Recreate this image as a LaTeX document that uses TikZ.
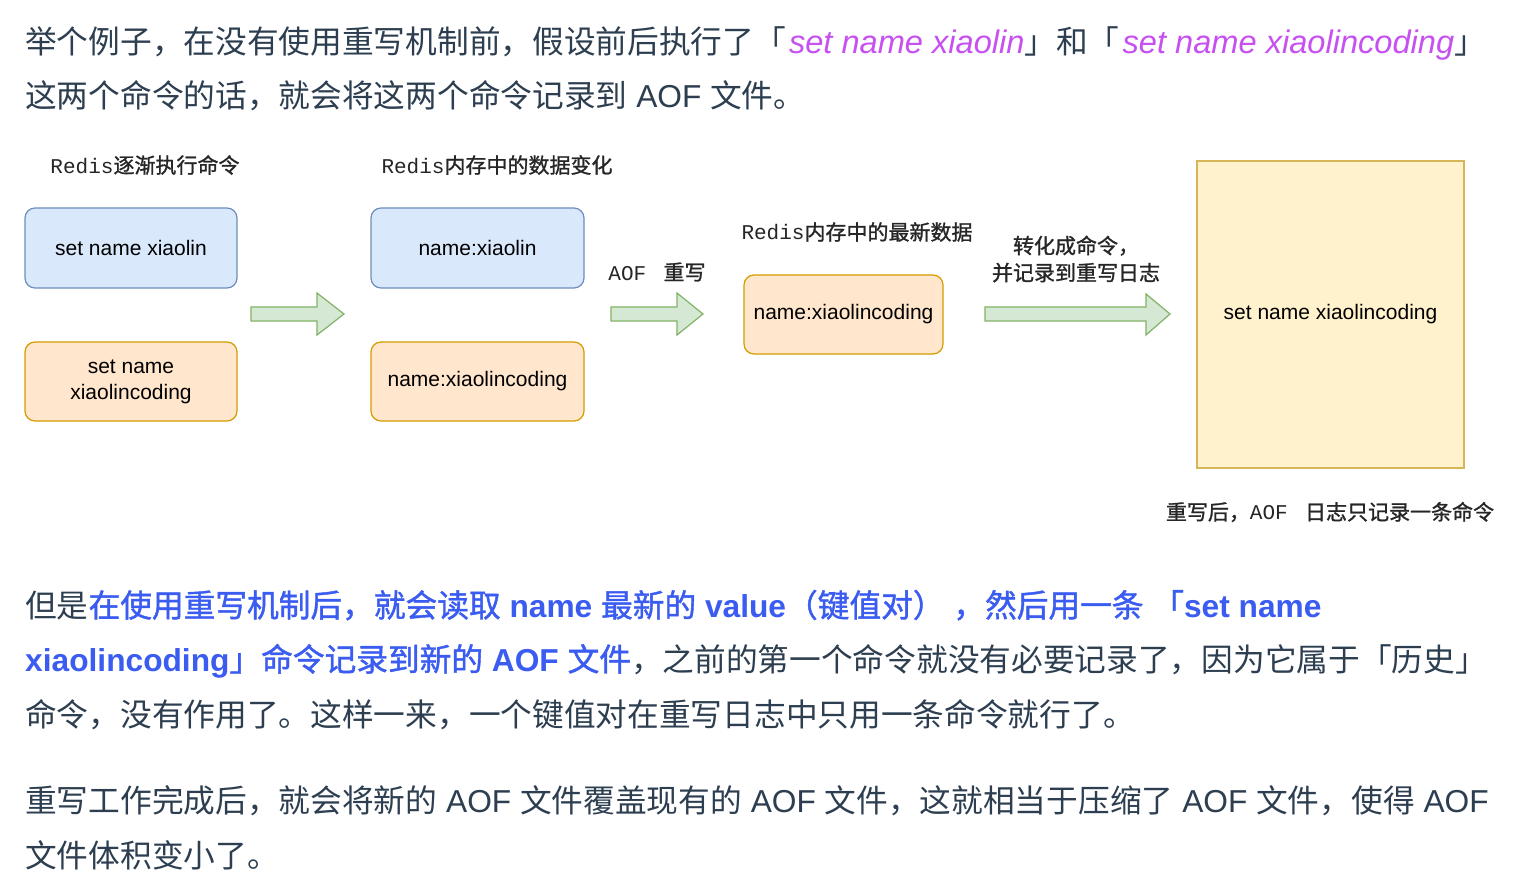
\documentclass[tikz,border=0pt]{standalone}
\usepackage{fontspec}
\setmainfont{Noto Sans CJK SC}
\newfontfamily\cjkmed[FakeBold=1.3]{Noto Sans CJK SC}
\newfontfamily\cjklbl[FakeBold=1.2]{Noto Sans CJK SC}
\newfontfamily\lat{Liberation Sans}
\newfontfamily\mono{Liberation Mono}
\newcommand{\lb}[1]{{\lat\bfseries #1}}
\newcommand{\pur}[1]{{\lat\itshape\fontsize{32.6}{38}\selectfont\color{purp}#1}}
\definecolor{bodytxt}{HTML}{2C3E50}
\definecolor{purp}{HTML}{C651F0}
\definecolor{blu}{HTML}{3A5CF0}
\definecolor{bluefill}{HTML}{DAE8FC}
\definecolor{blueline}{HTML}{6C8EBF}
\definecolor{orfill}{HTML}{FFE6CC}
\definecolor{orline}{HTML}{D79B00}
\definecolor{yfill}{HTML}{FFF2CC}
\definecolor{yline}{HTML}{D6B656}
\definecolor{gfill}{HTML}{D5E8D4}
\definecolor{gline}{HTML}{82B366}
\begin{document}
\begin{tikzpicture}[x=1pt,y=-1pt,
  para/.style={anchor=base west, inner sep=0pt, text=bodytxt, font=\fontsize{31.7}{38}\selectfont},
  lbl/.style={inner sep=0pt, text=black!85, font=\fontsize{21}{27}\selectfont\cjklbl, align=center},
  rbox/.style={draw, rounded corners=10pt, line width=1.2pt, inner sep=0pt, align=center,
    font=\lat\fontsize{21}{26}\selectfont, text=black},
  bluebox/.style={rbox, fill=bluefill, draw=blueline},
  orbox/.style={rbox, fill=orfill, draw=orline},
  garrow/.style={fill=gfill, draw=gline, line width=1.2pt, line join=miter}
]
\useasboundingbox (0,0) rectangle (1514,882);
\fill[white] (0,0) rectangle (1514,882);

% paragraph 1
\node[para] (l1) at (25,54) {举个例子，在没有使用重写机制前，假设前后执行了「\kern3pt\pur{set name xiaolin}」和「\kern3pt\pur{set name xiaolincoding}」};
\node[para] (l2) at (25,108) {这两个命令的话，就会将这两个命令记录到{\lat\ AOF }文件。};

% diagram labels
\node[lbl] (t1) at (145,165) {{\mono Redis}逐渐执行命令};
\node[lbl] (t2) at (497,165) {{\mono Redis}内存中的数据变化};
\node[lbl] (t3) at (857,232) {{\mono Redis}内存中的最新数据};
\node[lbl] (t4) at (657,272) {{\mono AOF\ }\ 重写};
\node[lbl] (t5) at (1076,259) {转化成命令，\\并记录到重写日志};
\node[lbl] (t6) at (1330,512) {重写后，{\mono AOF\ }\ 日志只记录一条命令};

% boxes
\node[bluebox, minimum width=212pt, minimum height=80pt] (b1) at (131,248) {set name xiaolin};
\node[orbox, minimum width=212pt, minimum height=79pt] (b2) at (131,381.5) {set name\\xiaolincoding};
\node[bluebox, minimum width=213pt, minimum height=80pt] (b3) at (477.5,248) {name:xiaolin};
\node[orbox, minimum width=213pt, minimum height=79pt] (b4) at (477.5,381.5) {name:xiaolincoding};
\node[orbox, minimum width=199pt, minimum height=79pt] (b5) at (843.5,314.5) {name:xiaolincoding};
\node[draw=yline, fill=yfill, line width=1.2pt, minimum width=267pt, minimum height=307pt, inner sep=0pt,
  font=\lat\fontsize{21}{26}\selectfont] (b6) at (1330.5,314.5) {set name xiaolincoding};

% block arrows
\draw[garrow] (251,307) -- (317,307) -- (317,293) -- (344,314) -- (317,335) -- (317,321) -- (251,321) -- cycle;
\draw[garrow] (611,307) -- (677,307) -- (677,293) -- (703,314) -- (677,335) -- (677,321) -- (611,321) -- cycle;
\draw[garrow] (985,307) -- (1146,307) -- (1146,294) -- (1170,314) -- (1146,335) -- (1146,321) -- (985,321) -- cycle;

% paragraph 2
\node[para] (p1) at (25,617) {但是{\color{blu}\cjkmed 在使用重写机制后，就会读取\lb{\ name }最新的\lb{\ value}（键值对）{\lat\ }，然后用一条{\lat\ }「\lb{set name}}};
\node[para] (p2) at (25,671) {{\color{blu}\cjkmed\lb{xiaolincoding}」命令记录到新的\lb{\ AOF }文件}，之前的第一个命令就没有必要记录了，因为它属于「历史」};
\node[para] (p3) at (25,726) {命令，没有作用了。这样一来，一个键值对在重写日志中只用一条命令就行了。};

% paragraph 3
\node[para] (q1) at (25,812) {重写工作完成后，就会将新的{\lat\ AOF }文件覆盖现有的{\lat\ AOF }文件，这就相当于压缩了{\lat\ AOF }文件，使得{\lat\ AOF}};
\node[para] (q2) at (25,867) {文件体积变小了。};
\end{tikzpicture}
\end{document}
